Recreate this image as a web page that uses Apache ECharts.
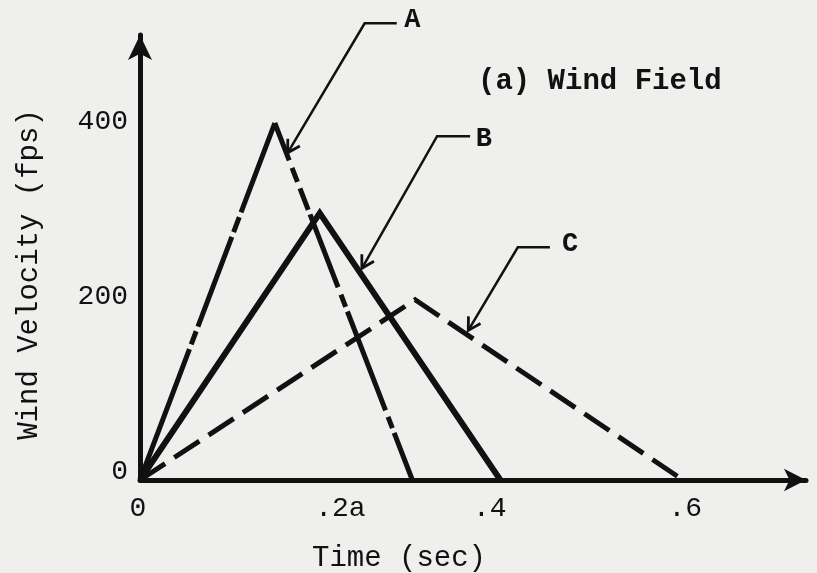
<!DOCTYPE html>
<html><head><meta charset="utf-8">
<script src="https://cdn.jsdelivr.net/npm/echarts@6/dist/echarts.min.js"></script>
<style>html,body{margin:0;padding:0;background:#efefed}#c{width:817px;height:573px}</style>
</head><body><div id="c"></div>
<script>
// ---- data ----
const xTickValues = [0, 0.2, 0.4, 0.6];
const xTickLabels = ['0', '.2a', '.4', '.6'];
const yTickValues = [0, 200, 400];
const yTickLabels = ['0', '200', '400'];
const seriesNames = ['A', 'B', 'C'];
const timeA = [0, 0.147, 0.297];
const velA  = [0, 408, 0];
const timeB = [0, 0.196, 0.393];
const velB  = [0, 305, 0];
const timeC = [0, 0.300, 0.592];
const velC  = [0, 206, 0];
// leader annotations: [label point, line end, corner, arrow tip] in (sec, fps)
const leaderA = [[0.297, 525], [0.280, 522], [0.245, 522], [0.161, 374]];
const leaderB = [[0.375, 389], [0.360, 393], [0.324, 393], [0.242, 242]];
const leaderC = [[0.469, 269], [0.447, 266], [0.412, 266], [0.358, 171]];

const FONT = 'Liberation Mono';
const INK = '#111111';
const AXW = 'normal';
// hand-drawn chain-line patterns of curve A (style only)
const dashRiseA = [140, 5, 14, 5, 96, 5, 16, 5, 140];
const dashFallA = [40, 8, 15, 7, 23, 5, 78, 8, 13, 5, 106, 7, 12, 5, 80];

function pts(t, v) { return t.map((x, i) => [x, v[i]]); }
function lookup(vals, v) {
  for (let i = 0; i < vals.length; i++) if (Math.abs(vals[i] - v) < 1e-6) return i;
  return -1;
}
const xRich = ['r0', 'r2', 'r4', 'r6'];
const leaders = [leaderA, leaderB, leaderC];
const leaderData = leaders.map(L => [].concat(L[0], L[1], L[2], L[3]));

function renderLeader(params, api) {
  const lab = api.coord([api.value(0), api.value(1)]);
  const e = api.coord([api.value(2), api.value(3)]);
  const c = api.coord([api.value(4), api.value(5)]);
  const t = api.coord([api.value(6), api.value(7)]);
  const dx = t[0] - c[0], dy = t[1] - c[1], L = Math.hypot(dx, dy);
  const ux = dx / L, uy = dy / L;
  const ang = Math.PI / 6, len = 14;
  const rot = a => [ux * Math.cos(a) - uy * Math.sin(a), ux * Math.sin(a) + uy * Math.cos(a)];
  const a1 = rot(ang), a2 = rot(-ang);
  return {
    type: 'group',
    children: [
      { type: 'polyline', shape: { points: [e, c, t] },
        style: { stroke: INK, lineWidth: 2.5, fill: null, lineJoin: 'miter' } },
      { type: 'polyline',
        shape: { points: [[t[0] - a1[0] * len, t[1] - a1[1] * len], t, [t[0] - a2[0] * len, t[1] - a2[1] * len]] },
        style: { stroke: INK, lineWidth: 2.8, fill: null, lineJoin: 'miter' } },
      { type: 'text', x: lab[0], y: lab[1],
        style: { text: seriesNames[params.dataIndex], fill: INK, fontFamily: FONT,
                 fontSize: 27, fontWeight: 'bold', align: 'center', verticalAlign: 'middle' } }
    ]
  };
}
function rs(pad) { return { fontFamily: FONT, fontSize: 28, fontWeight: AXW, color: INK, padding: pad }; }

const chart = echarts.init(document.getElementById('c'), null, { renderer: 'canvas' });
chart.setOption({
  animation: false,
  backgroundColor: '#efefed',
  title: {
    text: '(a) Wind Field', left: 478, top: 67, padding: 0,
    textStyle: { fontFamily: FONT, fontSize: 29, fontWeight: 'bold', color: INK }
  },
  grid: { left: 140, right: 11, top: 35, bottom: 93, containLabel: false, outerBoundsMode: 'none' },
  xAxis: {
    type: 'value', min: 0, max: 0.7263, interval: 0.2,
    name: 'Time (sec)', nameLocation: 'middle', nameGap: 64,
    nameTextStyle: { fontFamily: FONT, fontSize: 29, fontWeight: AXW, color: INK, padding: [0, 148, 0, 0] },
    axisLine: { show: true, lineStyle: { color: INK, width: 5 },
                symbol: ['none', 'arrow'], symbolSize: [17, 22] },
    axisTick: { show: false },
    splitLine: { show: false },
    axisLabel: {
      showMaxLabel: false, margin: 15, color: INK, fontFamily: FONT, fontSize: 28, fontWeight: AXW,
      formatter: v => { const i = lookup(xTickValues, v); return i < 0 ? '' : '{' + xRich[i] + '|' + xTickLabels[i] + '}'; },
      rich: { r0: rs([0, 4, 0, 0]), r2: rs([0, 0, 0, 34]), r4: rs([0, 34, 0, 0]), r6: rs([0, 10, 0, 0]) }
    }
  },
  yAxis: {
    type: 'value', min: 0, max: 508.6, interval: 200,
    name: 'Wind Velocity (fps)', nameLocation: 'middle', nameGap: 96,
    nameTextStyle: { fontFamily: FONT, fontSize: 29, fontWeight: AXW, color: INK, padding: [0, 34, 0, 0] },
    axisLine: { show: true, lineStyle: { color: INK, width: 5 },
                symbol: ['none', 'arrow'], symbolSize: [18, 25] },
    axisTick: { show: false },
    splitLine: { show: false },
    axisLabel: {
      showMaxLabel: false, margin: 12, color: INK, fontFamily: FONT, fontSize: 28, fontWeight: AXW,
      verticalAlign: 'bottom', lineHeight: 16,
      formatter: v => { const i = lookup(yTickValues, v); return i < 0 ? '' : yTickLabels[i]; }
    }
  },
  series: [
    { name: seriesNames[0], type: 'line', data: pts(timeA.slice(0, 2), velA.slice(0, 2)), symbol: 'none',
      lineStyle: { color: INK, width: 5, type: dashRiseA, cap: 'butt', join: 'miter' } },
    { name: seriesNames[0], type: 'line', data: pts(timeA.slice(1), velA.slice(1)), symbol: 'none',
      lineStyle: { color: INK, width: 5, type: dashFallA, cap: 'butt', join: 'miter' } },
    { name: seriesNames[1], type: 'line', data: pts(timeB, velB), symbol: 'none',
      lineStyle: { color: INK, width: 6, type: 'solid', join: 'miter' } },
    { name: seriesNames[2], type: 'line', data: pts(timeC, velC), symbol: 'none',
      lineStyle: { color: INK, width: 5, type: [30, 11], join: 'miter' } },
    { name: 'leaders', type: 'custom', clip: false, silent: true,
      data: leaderData, renderItem: renderLeader }
  ]
});
</script></body></html>
